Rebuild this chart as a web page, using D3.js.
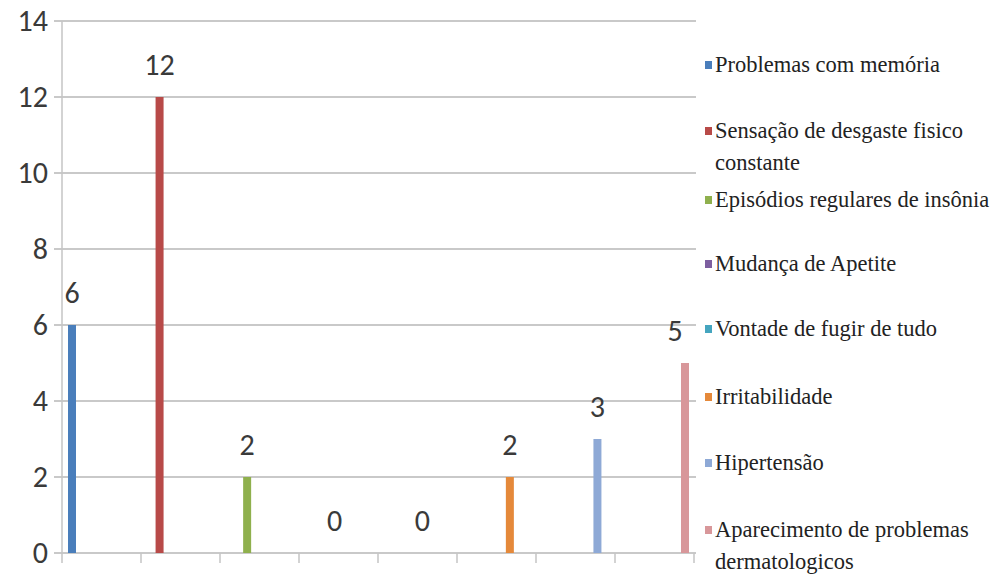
<!DOCTYPE html>
<html><head><meta charset="utf-8">
<script src="https://cdn.jsdelivr.net/npm/d3@7"></script>
</head><body style="margin:0">
<svg id="c" width="1003" height="576"></svg>
<script>
const series = ["Problemas com memória","Sensação de desgaste físico constante","Episódios regulares de insônia","Mudança de Apetite","Vontade de fugir de tudo","Irritabilidade","Hipertensão","Aparecimento de problemas dermatologicos"];
const legendLines = [["Problemas com memória"],["Sensação de desgaste fisico","constante"],["Episódios regulares de insônia"],["Mudança de Apetite"],["Vontade de fugir de tudo"],["Irritabilidade"],["Hipertensão"],["Aparecimento de problemas","dermatologicos"]];
const values = [6,12,2,0,0,2,3,5];
const colors = ["#4a7ebb","#b84a48","#8fb04d","#7d5fa0","#45a5bf","#e5893a","#8ea9d6","#d8979a"];
const yTicks = [0,2,4,6,8,10,12,14];
const slots = d3.range(8);

const svg = d3.select("#c");
const y = d3.scaleLinear().domain([0,14]).range([553,21]);
const xBar = d3.scalePoint().domain(series).range([72,685]);
const xSlot = d3.scaleBand().domain(slots).range([62,694]);

svg.append("g").selectAll("line").data(yTicks).join("line")
  .attr("x1",54).attr("x2",696).attr("y1",d=>y(d)).attr("y2",d=>y(d))
  .attr("stroke","#c9c9c9").attr("stroke-width",2);
svg.append("line").attr("x1",62).attr("x2",62).attr("y1",21).attr("y2",563)
  .attr("stroke","#c4c4c4").attr("stroke-width",1.5);
svg.append("g").selectAll("line").data(slots.map(s=>xSlot(s)+xSlot.bandwidth())).join("line")
  .attr("x1",d=>d).attr("x2",d=>d).attr("y1",553).attr("y2",563)
  .attr("stroke","#c4c4c4").attr("stroke-width",1.5);

svg.append("g").selectAll("text").data(yTicks).join("text")
  .attr("x",48).attr("y",d=>y(d)+10).attr("text-anchor","end")
  .attr("font-family","'Carlito'").attr("font-size",30).attr("fill","#3a3a3a")
  .text(d=>d);

svg.append("g").selectAll("rect").data(values).join("rect")
  .attr("x",(d,i)=>xBar(series[i])-4).attr("width",8)
  .attr("y",d=>y(d)).attr("height",d=>y(0)-y(d))
  .attr("fill",(d,i)=>colors[i]);

const labelDx = [0,0,0,0,0,0,0,-10];
svg.append("g").selectAll("text").data(values).join("text")
  .attr("x",(d,i)=>xBar(series[i])+labelDx[i]).attr("y",d=>y(d)-22)
  .attr("text-anchor","middle")
  .attr("font-family","'Carlito'").attr("font-size",30).attr("fill","#3a3a3a")
  .text(d=>d);

const legY = [65,131,200,264,329,397,463,530];
svg.append("g").selectAll("rect").data(series).join("rect")
  .attr("x",705).attr("y",(d,i)=>legY[i]-4).attr("width",7).attr("height",8)
  .attr("fill",(d,i)=>colors[i]);
const legItems = [];
legendLines.forEach((lines,i)=>lines.forEach((ln,k)=>legItems.push({t:ln,y:legY[i]+7+k*32})));
svg.selectAll("text.leg").data(legItems).join("text")
  .attr("class","leg")
  .attr("x",715).attr("y",d=>d.y)
  .attr("style","font-family:'Liberation Serif','Times New Roman',serif;font-size:22.5px")
  .attr("fill","#222")
  .text(d=>d.t);
</script>
</body></html>
